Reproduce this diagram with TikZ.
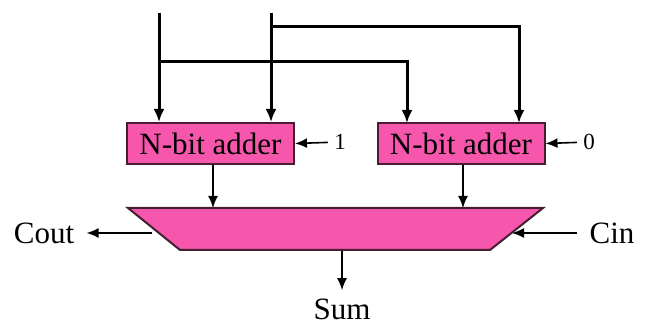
\documentclass[tikz,border=0pt]{standalone}
\usepackage{fontspec}
\setmainfont{Liberation Serif}
\usetikzlibrary{arrows.meta}
\definecolor{adderpink}{RGB}{246,86,172}
\definecolor{edgedark}{RGB}{70,30,50}
\tikzset{
    adder/.style={draw=edgedark, line width=1pt, fill=adderpink, minimum width=83.5pt, minimum height=20.5pt, inner sep=0pt, font=\fontsize{15.5}{18}\selectfont},
    bus/.style={line width=1.5pt, -{Latex[length=6.5pt, width=5.5pt]}},
    wire/.style={line width=0.8pt, -{Latex[length=6pt, width=5pt]}},
    sig/.style={inner sep=1pt, font=\fontsize{15.5}{18}\selectfont},
    bit/.style={inner sep=3pt, font=\fontsize{11.5}{13}\selectfont}}

\begin{document}
\begin{tikzpicture}[x=0.5pt, y=-0.5pt]

        \useasboundingbox (0,0) rectangle (647,324);

        \node[adder] (adderA) at (210.5,143.5) {N-bit adder};
        \node[adder] (adderB) at (461,143.5) {N-bit adder};

        \node[bit] (one) at (340,142) {1};
        \node[bit] (zero) at (589,142) {0};
        \node[sig, inner sep=6pt] (cout) at (44,233) {Cout};
        \node[sig, inner sep=6pt] (cin) at (612,233) {Cin};
        \node[sig] (sum) at (342,309) {Sum};

        % the multiplexer
        \draw[edgedark, line width=1pt, fill=adderpink] (128,208) -- (543,208) -- (490,250) -- (180,250) -- cycle;
        \coordinate (muxA) at (213,208);
        \coordinate (muxB) at (463,208);
        \coordinate (muxL) at (152,233);
        \coordinate (muxR) at (512,233);
        \coordinate (muxS) at (342,251);

        % operand buses
        \coordinate (inA) at (159,13);
        \coordinate (inB) at (271,13);
        \coordinate (tapA) at (159,62);
        \coordinate (tapB) at (271,27);
        \coordinate (pinA) at (407,123);
        \coordinate (pinB) at (519,123);

        \draw[bus] (inA) -- (inA |- adderA.north);
        \draw[bus] (inB) -- (inB |- adderA.north);
        \draw[bus] (tapA) -| (pinA);
        \draw[bus] (tapB) -| (pinB);

        \draw[wire] (one) -- (adderA.east);
        \draw[wire] (zero) -- (adderB.east);

        \draw[wire] (adderA.south -| muxA) -- (muxA);
        \draw[wire] (adderB.south -| muxB) -- (muxB);

        \draw[wire] (muxL) -- (cout);
        \draw[wire] (cin) -- (muxR);
        \draw[wire, shorten >=3pt] (muxS) -- (sum);

\end{tikzpicture}
\end{document}
